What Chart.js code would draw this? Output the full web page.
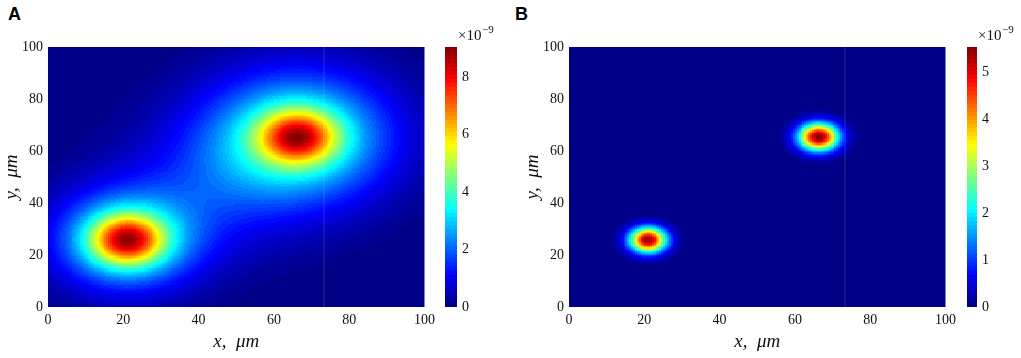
<!DOCTYPE html>
<html><head><meta charset="utf-8">
<script src="https://cdn.jsdelivr.net/npm/chart.js@4.4.1/dist/chart.umd.min.js"></script>
<style>
html,body{margin:0;padding:0;background:#fff;width:1021px;height:358px;overflow:hidden;}
canvas{position:absolute;top:0;}
.lbl{position:absolute;font:bold 18px "Liberation Sans",Arial,sans-serif;color:#000;line-height:18px;}
</style></head><body>
<div class="lbl" style="left:8px;top:5px">A</div>
<div class="lbl" style="left:515px;top:5px">B</div>
<canvas id="mapA" width="440" height="358" style="left:0px"></canvas>
<canvas id="barA" width="80" height="358" style="left:440px"></canvas>
<canvas id="mapB" width="440" height="358" style="left:521px"></canvas>
<canvas id="barB" width="61" height="358" style="left:960px"></canvas>
<script>
// ---- data ----
const axisTicks = [0, 20, 40, 60, 80, 100];
const colorTicksA = [0, 2, 4, 6, 8];
const colorTicksB = [0, 1, 2, 3, 4, 5];
const colorMaxA = 9.05;   // x10^-9
const colorMaxB = 5.55;   // x10^-9
const exponentText = '\u221210'; // unused helper
// Panel A: concentration components (centre x, centre y in µm, amplitude x10^-9, width µm)
const compAx   = [21.0, 21.0, 66.3, 66.3, 43.6];
const compAy   = [25.8, 25.8, 65.4, 65.4, 45.6];
const compAamp = [5.0, 3.7, 4.77, 4.0, 1.0];
const compAsig = [6.5, 13.0, 7.0, 17.0, 18.0];
// Panel B components
const compBx   = [21.0, 66.3];
const compBy   = [25.8, 65.4];
const compBamp = [5.45, 5.55];
const compBsig = [3.4, 3.7];
// faint vertical seam visible in both maps
const seamX = [73.3, 73.3];
const seamY = [0, 100];

const serif = "'Liberation Serif','DejaVu Serif',serif";
const LEVELS = 64;

function jet(t) {
  const c = v => Math.max(0, Math.min(1, v));
  const r = c(1.5 - Math.abs(4 * t - 3));
  const g = c(1.5 - Math.abs(4 * t - 2));
  const b = c(1.5 - Math.abs(4 * t - 1));
  return 'rgb(' + Math.round(r * 255) + ',' + Math.round(g * 255) + ',' + Math.round(b * 255) + ')';
}

function makeField(cx, cy, amp, sig) {
  return (x, y) => {
    let v = 0;
    for (let i = 0; i < cx.length; i++) {
      const dx = x - cx[i], dy = y - cy[i];
      v += amp[i] * Math.exp(-(dx * dx + dy * dy) / (2 * sig[i] * sig[i]));
    }
    return v;
  };
}

function heatPlugin(field, max) {
  return {
    id: 'heat',
    beforeDatasetsDraw(chart) {
      const {ctx, chartArea: a, scales: {x: xs, y: ys}} = chart;
      const step = 0.5;
      ctx.save();
      ctx.beginPath();
      ctx.rect(a.left, a.top, a.right - a.left, a.bottom - a.top);
      ctx.clip();
      for (let xv = 0; xv < 100; xv += step) {
        const px0 = Math.round(xs.getPixelForValue(xv));
        const px1 = Math.round(xs.getPixelForValue(xv + step));
        for (let yv = 0; yv < 100; yv += step) {
          const py0 = Math.round(ys.getPixelForValue(yv));
          const py1 = Math.round(ys.getPixelForValue(yv + step));
          const v = field(xv + step / 2, yv + step / 2);
          let idx = Math.floor(v / max * LEVELS);
          idx = Math.max(0, Math.min(LEVELS - 1, idx));
          ctx.fillStyle = jet((idx + 0.5) / LEVELS);
          ctx.fillRect(px0, py1, px1 - px0, py0 - py1);
        }
      }
      ctx.restore();
    }
  };
}

function makeMap(id, field, max) {
  const tickFont = {family: serif, size: 14};
  new Chart(document.getElementById(id), {
    type: 'scatter',
    data: {datasets: [{
      data: seamX.map((x, i) => ({x: x, y: seamY[i]})),
      showLine: true, pointRadius: 0, borderWidth: 1,
      borderColor: 'rgba(255,255,255,0.16)'
    }]},
    options: {
      responsive: false, animation: false, events: [],
      layout: {padding: {left: 0, right: 12, top: 47, bottom: 0}},
      plugins: {legend: {display: false}, tooltip: {enabled: false}},
      scales: {
        x: {
          type: 'linear', min: 0, max: 100,
          afterBuildTicks: s => { s.ticks = axisTicks.map(v => ({value: v})); },
          afterFit: s => { s.height = 51; },
          grid: {display: false, drawTicks: false},
          border: {display: false},
          ticks: {padding: 5, color: '#111', font: tickFont, maxRotation: 0},
          title: {display: true, text: 'x,  \u03bcm', color: '#111',
                  font: {family: serif, size: 19, style: 'italic'}, padding: {top: 0, bottom: 5}}
        },
        y: {
          type: 'linear', min: 0, max: 100,
          afterBuildTicks: s => { s.ticks = axisTicks.map(v => ({value: v})); },
          afterFit: s => { s.width = 48; },
          grid: {display: false, drawTicks: false},
          border: {display: false},
          ticks: {padding: 5, color: '#111', font: tickFont},
          title: {display: true, text: 'y,  \u03bcm', color: '#111',
                  font: {family: serif, size: 19, style: 'italic'}, padding: {top: 1, bottom: 0}}
        }
      }
    },
    plugins: [heatPlugin(field, max)]
  });
}

const exponentPlugin = {
  id: 'expo',
  afterDraw(chart) {
    const {ctx, chartArea: a} = chart;
    ctx.save();
    ctx.fillStyle = '#111';
    ctx.textBaseline = 'middle';
    ctx.textAlign = 'left';
    ctx.font = '15px ' + serif;
    const x0 = a.right + 1;
    ctx.fillText('\u00d710', x0, 36);
    const w = ctx.measureText('\u00d710').width;
    ctx.font = '11px ' + serif;
    ctx.fillText('\u22129', x0 + w + 0.5, 30);
    ctx.restore();
  }
};

function makeColorbar(id, max, ticks, padLeft, axisW) {
  const datasets = [];
  for (let i = 0; i < LEVELS; i++) {
    datasets.push({data: [max / LEVELS], backgroundColor: jet((i + 0.5) / LEVELS),
      borderWidth: 0, barPercentage: 1, categoryPercentage: 1});
  }
  new Chart(document.getElementById(id), {
    type: 'bar',
    data: {labels: [''], datasets: datasets},
    options: {
      responsive: false, animation: false, events: [],
      layout: {padding: {left: padLeft, right: 0, top: 47, bottom: 51}},
      plugins: {legend: {display: false}, tooltip: {enabled: false}},
      scales: {
        x: {display: false, stacked: true},
        y: {
          position: 'right', stacked: true, min: 0, max: max,
          afterBuildTicks: s => { s.ticks = ticks.map(v => ({value: v})); },
          afterFit: s => { s.width = axisW; },
          grid: {display: false, drawTicks: false},
          border: {display: false},
          ticks: {padding: 5, color: '#111', font: {family: serif, size: 14}}
        }
      }
    },
    plugins: [exponentPlugin]
  });
}

makeMap('mapA', makeField(compAx, compAy, compAamp, compAsig), colorMaxA);
makeMap('mapB', makeField(compBx, compBy, compBamp, compBsig), colorMaxB);
makeColorbar('barA', colorMaxA, colorTicksA, 5, 63);
makeColorbar('barB', colorMaxB, colorTicksB, 7, 44);
</script>
</body></html>
